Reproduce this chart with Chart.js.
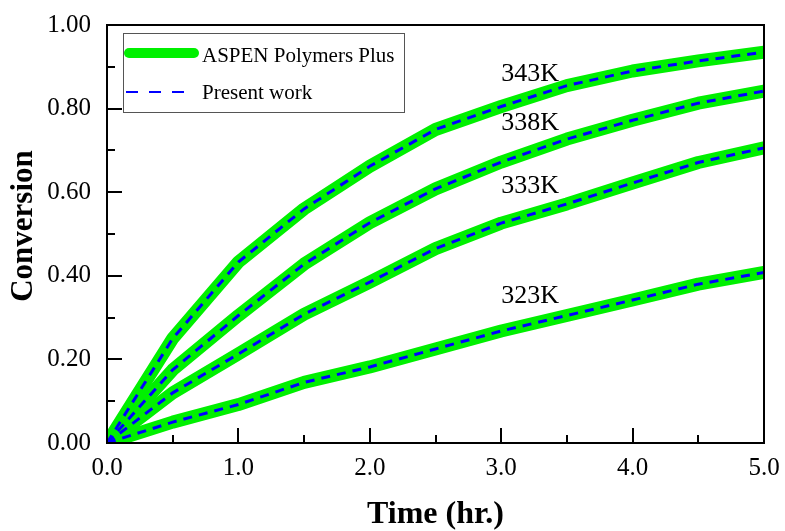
<!DOCTYPE html>
<html>
<head>
<meta charset="utf-8">
<script src="https://cdn.jsdelivr.net/npm/chart.js@4.4.1/dist/chart.umd.min.js"></script>
<style>
  html, body { margin: 0; padding: 0; background: #fff; }
  #wrap { width: 785px; height: 531px; }
</style>
</head>
<body>
<div id="wrap"><canvas id="cConv"></canvas></div>
<script>
// time grid (hr.)
const times = [0, 0.5, 1.0, 1.5, 2.0, 2.5, 3.0, 3.5, 4.0, 4.5, 5.0];
// conversion per temperature
const conv343 = [0, 0.25, 0.433, 0.56, 0.662, 0.75, 0.805, 0.855, 0.89, 0.914, 0.935];
const conv338 = [0, 0.175, 0.305, 0.428, 0.527, 0.608, 0.672, 0.727, 0.772, 0.813, 0.842];
const conv333 = [0, 0.12, 0.213, 0.308, 0.385, 0.465, 0.526, 0.572, 0.622, 0.671, 0.706];
const conv323 = [0, 0.05, 0.092, 0.145, 0.182, 0.225, 0.268, 0.305, 0.342, 0.38, 0.408];
const tempLabels = ['343K', '338K', '333K', '323K'];
const xTicks = [0, 1, 2, 3, 4, 5];
const yTicks = [0, 0.2, 0.4, 0.6, 0.8, 1.0];

const serif = "'Liberation Serif', 'Times New Roman', serif";
const curves = [conv343, conv338, conv333, conv323];
const pts = arr => arr.map((v, i) => ({ x: times[i], y: v }));

const datasets = [];
curves.forEach(c => {
  datasets.push({ label: 'ASPEN Polymers Plus', data: pts(c), borderColor: '#00f000', borderWidth: 13,
    borderCapStyle: 'round', borderJoinStyle: 'round', pointRadius: 0, tension: 0, order: 2 });
  datasets.push({ label: 'Present work', data: pts(c), borderColor: '#0000ff', borderWidth: 3,
    borderDash: [9, 7], pointRadius: 0, tension: 0, order: 1 });
});

// frame, inward ticks, y title, curve labels and boxed legend
const decor = {
  id: 'decor',
  afterDatasetsDraw(chart) {
    const { ctx, chartArea: a, scales: { x, y } } = chart;
    ctx.save();
    ctx.strokeStyle = '#000';
    ctx.lineWidth = 2;
    ctx.strokeRect(a.left, a.top, a.right - a.left, a.bottom - a.top);
    ctx.beginPath();
    for (let v = 0.5; v < 5; v += 0.5) {
      const px = Math.round(x.getPixelForValue(v));
      const len = Number.isInteger(v) ? 15 : 8;
      ctx.moveTo(px, a.bottom); ctx.lineTo(px, a.bottom - len);
    }
    for (let i = 1; i < 10; i++) {
      const py = Math.round(y.getPixelForValue(i / 10));
      const len = i % 2 === 0 ? 15 : 8;
      ctx.moveTo(a.left, py); ctx.lineTo(a.left + len, py);
    }
    ctx.stroke();

    ctx.fillStyle = '#000';
    ctx.save();
    ctx.translate(24, 226);
    ctx.rotate(-Math.PI / 2);
    ctx.font = 'bold 31px ' + serif;
    ctx.textAlign = 'center';
    ctx.textBaseline = 'middle';
    ctx.fillText('Conversion', 0, 0);
    ctx.restore();

    ctx.font = '26px ' + serif;
    ctx.textAlign = 'left';
    ctx.textBaseline = 'alphabetic';
    const labelY = [0.866, 0.749, 0.598, 0.335];
    tempLabels.forEach((t, i) => ctx.fillText(t, x.getPixelForValue(3.0), y.getPixelForValue(labelY[i])));

    // legend
    const lx = 123, ly = 33, lw = 281, lh = 79;
    ctx.fillStyle = '#fff';
    ctx.fillRect(lx, ly, lw, lh);
    ctx.strokeStyle = '#555';
    ctx.lineWidth = 1;
    ctx.strokeRect(lx + 0.5, ly + 0.5, lw, lh);
    ctx.lineCap = 'round';
    ctx.strokeStyle = '#00f000';
    ctx.lineWidth = 10;
    ctx.beginPath(); ctx.moveTo(lx + 6, 53); ctx.lineTo(lx + 71, 53); ctx.stroke();
    ctx.lineCap = 'butt';
    ctx.strokeStyle = '#0000ff';
    ctx.lineWidth = 2;
    ctx.setLineDash([12, 11]);
    ctx.beginPath(); ctx.moveTo(lx + 3, 92); ctx.lineTo(lx + 66, 92); ctx.stroke();
    ctx.setLineDash([]);
    ctx.fillStyle = '#000';
    ctx.font = '21px ' + serif;
    ctx.textBaseline = 'middle';
    ctx.fillText('ASPEN Polymers Plus', 202, 56);
    ctx.fillText('Present work', 202, 93);
    ctx.restore();
  }
};

new Chart(document.getElementById('cConv'), {
  type: 'line',
  data: { datasets },
  options: {
    responsive: true, maintainAspectRatio: false, animation: false,
    layout: { padding: { top: 25, right: 21, left: 0, bottom: 0 } },
    plugins: { legend: { display: false }, tooltip: { enabled: false } },
    scales: {
      x: {
        type: 'linear', min: 0, max: 5,
        grid: { display: false, drawTicks: false }, border: { display: false },
        afterBuildTicks: s => { s.ticks = xTicks.map(v => ({ value: v })); },
        ticks: { color: '#000', padding: 10, maxRotation: 0, font: { family: serif, size: 25 }, callback: v => v.toFixed(1) },
        title: { display: true, text: 'Time (hr.)', color: '#000', padding: 0,
          font: { family: serif, size: 32, weight: 'bold', lineHeight: 1 } },
        afterFit: s => { s.height = 88; s.paddingLeft = 0; s.paddingRight = 0; }
      },
      y: {
        min: 0, max: 1,
        grid: { display: false, drawTicks: false }, border: { display: false },
        afterBuildTicks: s => { s.ticks = yTicks.map(v => ({ value: v })); },
        ticks: { color: '#000', padding: 16, font: { family: serif, size: 25 }, callback: v => v.toFixed(2) },
        afterFit: s => { s.width = 107; s.paddingTop = 0; s.paddingBottom = 0; }
      }
    }
  },
  plugins: [decor]
});
</script>
</body>
</html>
